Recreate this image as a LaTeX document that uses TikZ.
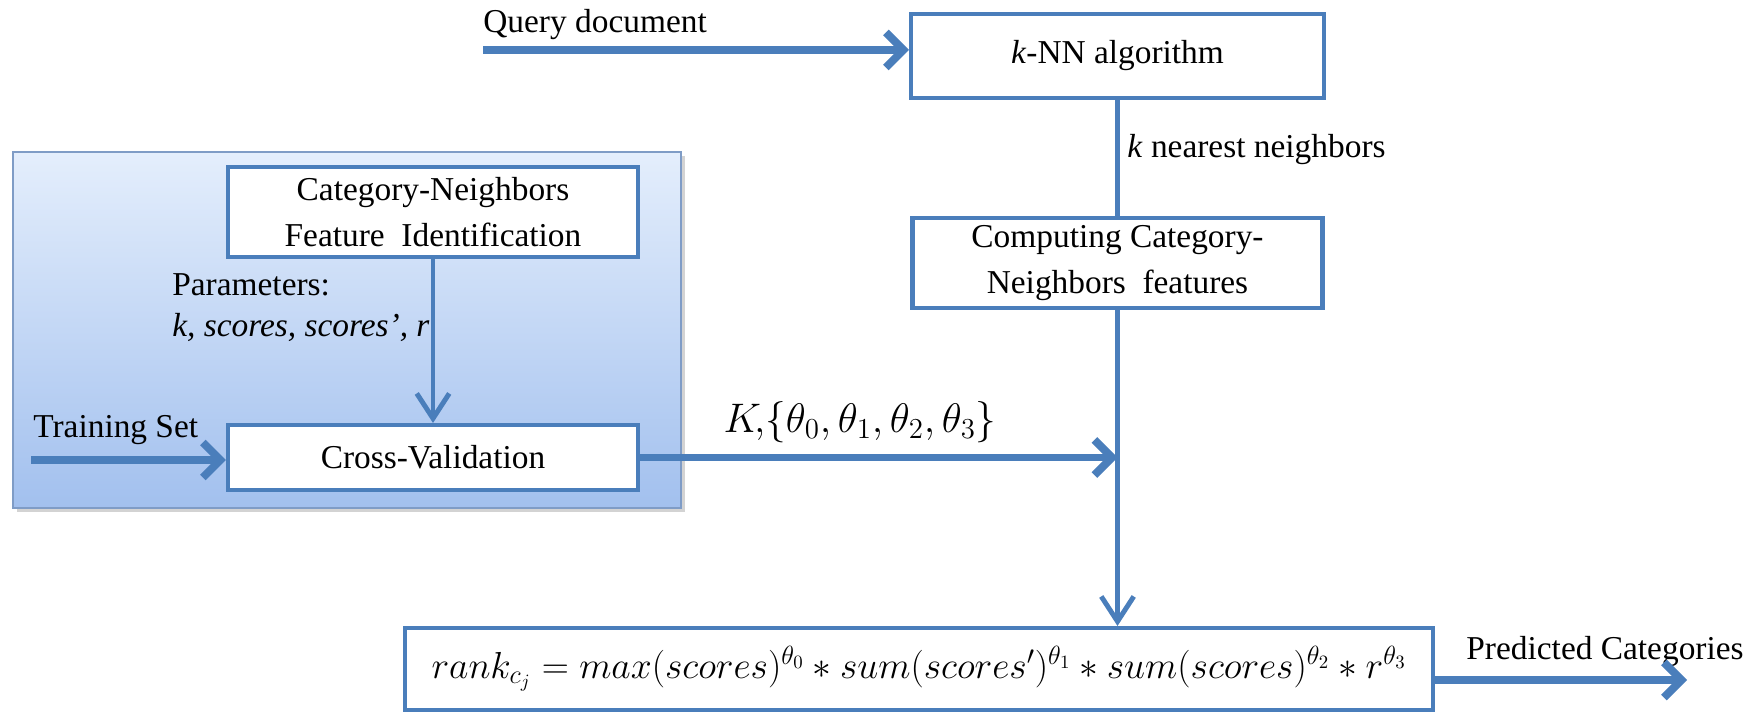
\RequirePackage{fix-cm}
\documentclass[tikz,border=0pt]{standalone}
\usepackage{amsmath,amssymb}
\usepackage{fontspec}
\setmainfont{Liberation Serif}
\usepackage{xcolor}
\usepackage{tikz}
\usetikzlibrary{arrows.meta,positioning,calc,shadows}
\definecolor{lineblue}{HTML}{4A7EBB}
\definecolor{paneltop}{HTML}{E4EEFC}
\definecolor{panelbot}{HTML}{A2C0EE}
\definecolor{panelline}{HTML}{7F9CC6}
\tikzset{
  box/.style={draw=lineblue,line width=2.3pt,fill=white,align=center,font=\fontsize{19}{26}\selectfont,inner sep=4pt,minimum width=8.2cm,minimum height=1.8cm},
  lbl/.style={font=\fontsize{19}{23}\selectfont,inner sep=0pt},
  arr/.style={-{Straight Barb[length=3.5mm,width=7mm]},line width=4.5pt,draw=lineblue},
  varr/.style={-{Straight Barb[length=5mm,width=6.5mm]},line width=2.8pt,draw=lineblue},
  vline/.style={line width=2.8pt,draw=lineblue},
}

\begin{document}
\begin{tikzpicture}
\useasboundingbox (0,0) rectangle (35.28,14.24);
\node[draw=panelline,line width=0.8pt,top color=paneltop,bottom color=panelbot,
  drop shadow={opacity=0.35,shadow xshift=2pt,shadow yshift=-2pt},
  minimum width=13.36cm,minimum height=7.12cm,inner sep=0pt] (panel) at (6.94,7.64) {};
\node[box] (cnfi) at (8.66,10.0) {Category-Neighbors\\Feature~~Identification};
\node[box,minimum height=1.3cm] (cv) at (8.66,5.09) {Cross-Validation};
\node[box,minimum width=8.26cm,minimum height=1.68cm] (knn) at (22.35,13.12) {\textit{k}-NN algorithm};
\node[box] (comp) at (22.35,8.98) {Computing Category-\\Neighbors~~features};
\node[box,minimum width=20.56cm,minimum height=1.64cm,font=\fontsize{21.4}{24}\selectfont] (fm) at (18.38,0.86)
  {$rank_{c_j} = max(scores)^{\theta_0} * sum(scores')^{\theta_1} * sum(scores)^{\theta_2} * r^{\theta_3}$};

\node[lbl,anchor=west] (qd) at (9.66,13.74) {Query document};
\node[lbl,anchor=west] (ts) at (0.66,5.64) {Training Set};
\node[lbl,anchor=west,align=left] (par) at (3.44,8.09) {Parameters:\\\textit{k, scores, scores', r}};
\node[lbl,anchor=west] (knb) at (22.54,11.24) {\textit{k} nearest neighbors};
\node[lbl,font=\fontsize{23.5}{26}\selectfont] (kth) at (17.2,5.8) {$K\!,\!\{\theta_0,\theta_1,\theta_2,\theta_3\}$};
\node[lbl] (pc) at (32.1,1.2) {Predicted Categories};

\coordinate (qstart) at (9.66,13.24);
\coordinate (tstart) at (0.62,5.04);
\coordinate (pend) at (33.74,0.64);

\draw[arr] (qstart) -- (qstart -| knn.west);
\draw[arr] (tstart) -- (tstart -| cv.west);
\draw[varr] (cnfi) -- (cv);
\draw[vline] (knn) -- (comp);
\draw[varr] (comp) -- (fm.north -| comp);
\draw[arr] (cv.east) -- (cv.east -| comp.south);
\draw[arr] (pend -| fm.east) -- (pend);
\end{tikzpicture}
\end{document}
